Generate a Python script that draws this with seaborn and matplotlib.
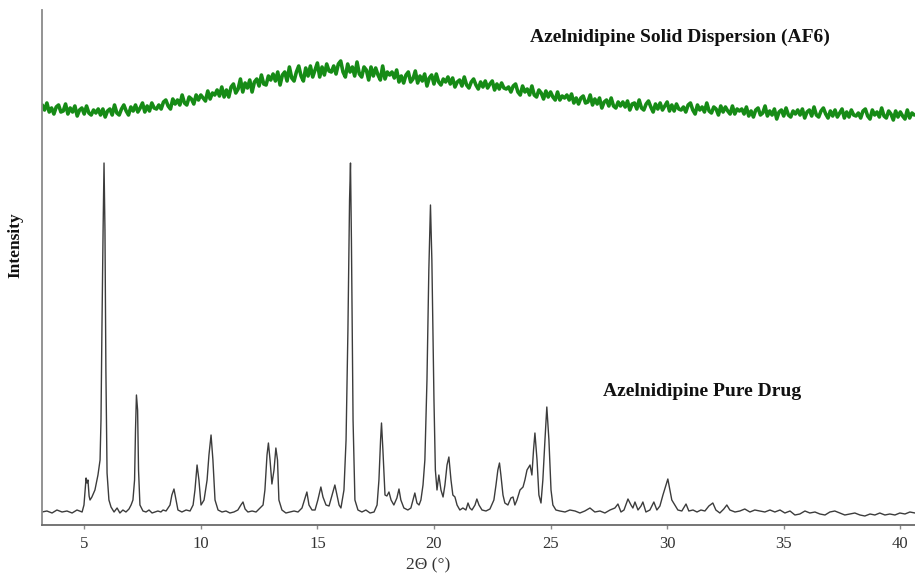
import numpy as np
import pandas as pd
import matplotlib
matplotlib.use("Agg")
import matplotlib.pyplot as plt
import seaborn as sns

# ---------------- data ----------------
# Azelnidipine pure drug: traced 2-theta positions and intensities (a.u.)
pure_2theta = [
    3.19, 3.40, 3.62, 3.83, 4.05, 4.26, 4.48, 4.69, 4.91, 4.99, 5.08, 5.12, 5.16, 5.21, 5.25, 5.33,
    5.46, 5.59, 5.68, 5.72, 5.76, 5.81, 5.85, 5.89, 5.93, 5.98, 6.06, 6.15, 6.28, 6.41, 6.53, 6.66,
    6.79, 6.92, 7.01, 7.09, 7.16, 7.20, 7.24, 7.29, 7.33, 7.39, 7.52, 7.65, 7.78, 7.91, 8.04, 8.16,
    8.29, 8.38, 8.51, 8.68, 8.76, 8.85, 8.94, 9.02, 9.19, 9.37, 9.54, 9.67, 9.75, 9.84, 9.92, 10.01,
    10.14, 10.27, 10.35, 10.44, 10.52, 10.61, 10.74, 10.91, 11.08, 11.25, 11.42, 11.59, 11.72, 11.81,
    11.90, 12.02, 12.20, 12.37, 12.54, 12.67, 12.75, 12.84, 12.90, 12.97, 13.05, 13.14, 13.22, 13.29,
    13.35, 13.48, 13.65, 13.82, 14.00, 14.17, 14.34, 14.47, 14.55, 14.64, 14.77, 14.90, 15.02, 15.15,
    15.24, 15.37, 15.50, 15.63, 15.75, 15.84, 15.93, 16.01, 16.14, 16.23, 16.31, 16.38, 16.42, 16.46,
    16.53, 16.61, 16.74, 16.91, 17.08, 17.26, 17.43, 17.56, 17.64, 17.71, 17.75, 17.81, 17.90, 17.98,
    18.07, 18.16, 18.28, 18.41, 18.50, 18.58, 18.71, 18.88, 19.01, 19.10, 19.18, 19.27, 19.36, 19.44,
    19.53, 19.61, 19.70, 19.78, 19.85, 19.91, 20.00, 20.06, 20.13, 20.21, 20.30, 20.39, 20.47, 20.56,
    20.64, 20.73, 20.81, 20.90, 20.99, 21.11, 21.24, 21.37, 21.46, 21.54, 21.63, 21.76, 21.84, 21.93,
    22.06, 22.23, 22.40, 22.57, 22.66, 22.74, 22.81, 22.87, 22.96, 23.04, 23.17, 23.30, 23.39, 23.47,
    23.56, 23.69, 23.82, 23.90, 23.99, 24.12, 24.20, 24.27, 24.33, 24.42, 24.50, 24.59, 24.67, 24.76,
    24.84, 24.93, 25.02, 25.10, 25.23, 25.40, 25.62, 25.83, 26.05, 26.26, 26.47, 26.69, 26.90, 27.12,
    27.33, 27.55, 27.76, 27.89, 28.02, 28.15, 28.32, 28.45, 28.53, 28.62, 28.75, 28.88, 28.96, 29.09,
    29.26, 29.43, 29.56, 29.69, 29.82, 29.95, 30.03, 30.12, 30.20, 30.33, 30.46, 30.63, 30.81, 30.93,
    31.11, 31.28, 31.45, 31.62, 31.79, 31.96, 32.09, 32.26, 32.43, 32.56, 32.69, 32.91, 33.12, 33.33,
    33.55, 33.76, 33.98, 34.19, 34.41, 34.62, 34.84, 35.05, 35.27, 35.48, 35.69, 35.91, 36.12, 36.34,
    36.55, 36.77, 36.98, 37.19, 37.41, 37.62, 37.84, 38.05, 38.27, 38.48, 38.70, 38.91, 39.12, 39.34,
    39.55, 39.77, 39.98, 40.20, 40.41, 40.63,
]
pure_intensity = [
    13, 14, 12, 15, 13, 14, 12, 15, 13, 20, 47, 42, 45, 29, 25, 28,
    35, 50, 65, 105, 195, 295, 362, 295, 155, 52, 25, 18, 13, 17, 12, 15,
    13, 16, 20, 25, 45, 95, 130, 115, 55, 20, 14, 13, 15, 12, 13, 14,
    13, 15, 14, 20, 30, 36, 25, 15, 13, 15, 14, 20, 35, 60, 45, 20,
    25, 45, 70, 90, 65, 25, 15, 13, 14, 12, 13, 15, 20, 23,
    16, 13, 14, 13, 17, 20, 35, 70, 82, 65, 41, 55, 77, 65,
    25, 15, 12, 13, 14, 13, 17, 27, 33, 20, 15, 15, 25, 38,
    28, 20, 19, 30, 40, 30, 20, 17, 35, 85, 195, 325, 362, 285,
    105, 25, 15, 13, 15, 12, 13, 20, 45, 85, 102, 75, 30, 29,
    33, 25, 20, 27, 36, 25, 17, 15, 17, 25, 32, 22, 20, 25,
    40, 65, 145, 255, 320, 265, 125, 55, 35, 50, 35, 28, 40, 60,
    68, 45, 30, 28, 20, 15, 17, 15, 22, 17, 15, 20, 26, 20,
    15, 14, 16, 25, 40, 55, 62, 50, 30, 22, 20, 27, 28, 20,
    25, 35, 38, 45, 55, 60, 50, 75, 92, 65, 30, 22, 45, 85,
    118, 85, 35, 20, 15, 14, 13, 15, 14, 12, 14, 17, 13, 14,
    12, 15, 17, 21, 13, 15, 26, 20, 17, 23, 15, 19, 23, 13,
    15, 23, 15, 19, 30, 40, 46, 35, 25, 20, 15, 14, 21, 14,
    15, 13, 15, 14, 19, 22, 15, 12, 16, 20, 15, 13, 14, 16,
    13, 15, 14, 13, 15, 13, 15, 12, 14, 10, 11, 14, 12, 13,
    11, 10, 13, 14, 12, 10, 11, 12, 10, 9, 11, 10, 12, 10,
    11, 10, 12, 11, 13, 12,
]

# Solid dispersion (AF6): scan from 3.2 deg in 0.1 deg steps, intensities
af6_start, af6_step = 3.2, 0.1
af6_intensity = [
    420, 415, 422, 413, 417, 411, 418, 420, 413, 414, 421, 411, 417, 413, 419, 409, 415, 417, 411, 419, 412, 410, 415, 412, 416,
    410, 416, 408, 414, 416, 410, 420, 412, 410, 416, 420, 414, 410, 418, 414, 420, 413, 417, 422, 413, 419, 414, 422, 417, 416,
    420, 416, 423, 425, 419, 416, 426, 421, 425, 420, 430, 422, 420, 428, 426, 421, 430, 425, 430, 427, 424, 434, 426, 432, 430,
    435, 429, 438, 428, 435, 428, 438, 441, 432, 436, 446, 433, 442, 437, 445, 433, 443, 446, 439, 450, 441, 440, 449, 445, 451,
    444, 453, 440, 450, 453, 444, 458, 447, 444, 453, 459, 449, 444, 457, 449, 459, 448, 455, 462, 448, 458, 450, 461, 454, 453,
    459, 451, 461, 464, 453, 448, 461, 453, 458, 449, 463, 451, 448, 458, 455, 445, 458, 449, 457, 450, 445, 459, 446, 453, 450,
    453, 447, 455, 443, 449, 442, 450, 453, 443, 446, 454, 442, 449, 444, 451, 439, 447, 450, 441, 451, 443, 440, 446, 443, 448,
    441, 447, 438, 443, 445, 439, 448, 440, 437, 443, 446, 440, 436, 443, 438, 444, 437, 441, 444, 435, 441, 436, 442, 437, 436,
    438, 433, 439, 441, 433, 430, 439, 433, 436, 430, 439, 430, 428, 435, 432, 426, 434, 428, 433, 428, 425, 433, 425, 429, 427,
    430, 425, 431, 422, 427, 421, 427, 429, 422, 423, 430, 420, 426, 421, 427, 417, 423, 425, 419, 427, 419, 417, 423, 419, 423,
    418, 424, 415, 421, 422, 416, 425, 417, 415, 421, 424, 418, 413, 421, 416, 422, 415, 419, 423, 414, 420, 414, 421, 416, 415,
    418, 413, 420, 422, 415, 411, 420, 415, 418, 413, 422, 414, 412, 418, 416, 410, 419, 413, 418, 414, 411, 419, 411, 416, 414,
    416, 411, 418, 409, 414, 408, 415, 417, 410, 412, 419, 409, 414, 410, 416, 406, 413, 415, 409, 417, 410, 408, 414, 411, 415,
    410, 416, 407, 413, 415, 409, 418, 410, 408, 414, 417, 411, 407, 414, 409, 415, 408, 412, 416, 407, 413, 408, 415, 410, 409,
    412, 407, 414, 416, 409, 406, 415, 410, 413, 408, 417, 409, 407, 414, 411, 405, 414, 408, 413, 409, 406, 415, 407, 412, 410,
]
af6_2theta = np.round(af6_start + af6_step * np.arange(len(af6_intensity)), 2)

x_ticks = [5, 10, 15, 20, 25, 30, 35, 40]
label_af6 = "Azelnidipine Solid Dispersion (AF6)"
label_pure = "Azelnidipine Pure Drug"

# ---------------- plotting ----------------
sns.set_theme(style="white")
plt.rcParams["font.family"] = ["Liberation Serif", "DejaVu Serif"]

fig = plt.figure(figsize=(9.15, 5.77), dpi=100)
ax = fig.add_axes([42 / 915, 52 / 577, 873 / 915, 515 / 577])

df_pure = pd.DataFrame({"2theta": pure_2theta, "I": pure_intensity})
df_af6 = pd.DataFrame({"2theta": af6_2theta, "I": af6_intensity})

sns.lineplot(data=df_af6, x="2theta", y="I", ax=ax, color="#168b16",
             linewidth=2.6, estimator=None, sort=False)
sns.lineplot(data=df_pure, x="2theta", y="I", ax=ax, color="#3c3c3c",
             linewidth=1.0, estimator=None, sort=False)

ax.set_xlim(3.19, 40.63)
ax.set_ylim(0, 515)
ax.set_xticks(x_ticks)
ax.set_xticklabels([str(t) for t in x_ticks])
ax.set_yticks([])
ax.tick_params(axis="x", bottom=True, length=3, width=1, color="#8a8a8a",
               pad=5, labelsize=12, labelcolor="#333333")

for s in ["top", "right"]:
    ax.spines[s].set_visible(False)
ax.spines["left"].set_color("#8a8a8a")
ax.spines["left"].set_linewidth(1.3)
ax.spines["bottom"].set_color("#6a6a6a")
ax.spines["bottom"].set_linewidth(1.3)

ax.set_xlabel("2Θ (°)", fontsize=12.5, color="#333333")
ax.xaxis.set_label_coords(0.442, -0.062)
ax.set_ylabel("Intensity", fontsize=12.5, fontweight="bold", color="#111111")
ax.yaxis.set_label_coords(-0.021, 0.544)

ax.text(30.55, 488, label_af6, ha="center", va="center", fontsize=14,
        fontweight="bold", color="#111111")
ax.text(31.49, 133, label_pure, ha="center", va="center", fontsize=14,
        fontweight="bold", color="#111111")

fig.savefig("out.png", dpi=100)
